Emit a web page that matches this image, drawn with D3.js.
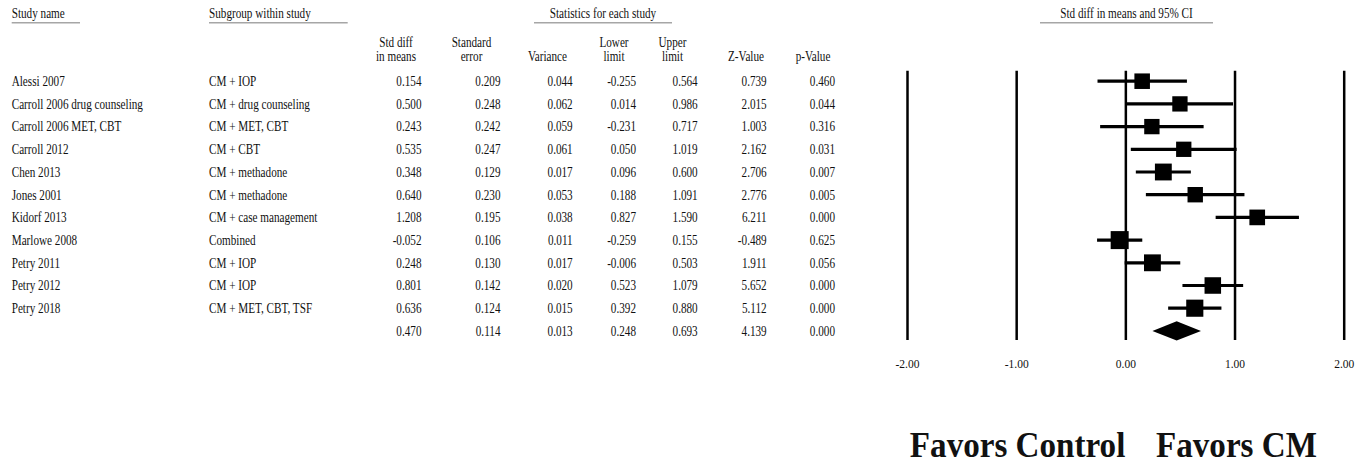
<!DOCTYPE html>
<html>
<head>
<meta charset="utf-8">
<script src="https://cdn.jsdelivr.net/npm/d3@7"></script>
<style>
  html, body { margin: 0; padding: 0; background: #fff; }
  svg { display: block; }
  text { font-family: "Liberation Serif", "Times New Roman", serif; fill: #111; }
</style>
</head>
<body>
<svg id="chart" width="1368" height="464"></svg>
<script>
// Per-study results (standardized difference in means, random-effects meta-analysis)
const studyNames = [
  "Alessi 2007", "Carroll 2006 drug counseling", "Carroll 2006 MET, CBT", "Carroll 2012",
  "Chen 2013", "Jones 2001", "Kidorf 2013", "Marlowe 2008", "Petry 2011", "Petry 2012", "Petry 2018"
];
const subgroups = [
  "CM + IOP", "CM + drug counseling", "CM + MET, CBT", "CM + CBT",
  "CM + methadone", "CM + methadone", "CM + case management", "Combined",
  "CM + IOP", "CM + IOP", "CM + MET, CBT, TSF"
];
const stdDiff   = [0.154, 0.500, 0.243, 0.535, 0.348, 0.640, 1.208, -0.052, 0.248, 0.801, 0.636];
const stdErr    = [0.209, 0.248, 0.242, 0.247, 0.129, 0.230, 0.195, 0.106, 0.130, 0.142, 0.124];
const variance  = [0.044, 0.062, 0.059, 0.061, 0.017, 0.053, 0.038, 0.011, 0.017, 0.020, 0.015];
const lowerLim  = [-0.255, 0.014, -0.231, 0.050, 0.096, 0.188, 0.827, -0.259, -0.006, 0.523, 0.392];
const upperLim  = [0.564, 0.986, 0.717, 1.019, 0.600, 1.091, 1.590, 0.155, 0.503, 1.079, 0.880];
const zValue    = [0.739, 2.015, 1.003, 2.162, 2.706, 2.776, 6.211, -0.489, 1.911, 5.652, 5.112];
const pValue    = [0.460, 0.044, 0.316, 0.031, 0.007, 0.005, 0.000, 0.625, 0.056, 0.000, 0.000];

// Pooled estimate
const summaryStats = [0.470, 0.114, 0.013, 0.248, 0.693, 4.139, 0.000];

// Axis of the forest plot
const tickValues = [-2, -1, 0, 1, 2];
const favorsLabels = ["Favors Control", "Favors CM"];

// Table column headers
const statHeaders = [
  ["Std diff", "in means"], ["Standard", "error"], ["", "Variance"], ["Lower", "limit"],
  ["Upper", "limit"], ["", "Z-Value"], ["", "p-Value"]
];

// ---------------------------------------------------------------------------
const svg = d3.select("#chart");
const SX = 0.81;          // glyph width compression used by the table font
const FS = 13.8;          // table font size

function label(g, x, y, str, anchor, size, opts = {}) {
  return g.append("text")
    .attr("transform", `translate(${x},${y}) scale(${opts.sx ?? SX},1)`)
    .attr("text-anchor", anchor)
    .attr("font-size", size)
    .attr("font-weight", opts.weight || "normal")
    .text(str);
}
const fmt = v => v.toFixed(3);

// Row layout
const nRows = studyNames.length + 1;
const rowY = d3.scaleLinear().domain([0, 1]).range([86, 86 + 22.7]);   // text baselines
const rowMid = i => rowY(i) - 4.8;                                        // marker centres

// Column layout (right edges of numeric columns, centres of headers)
const colRight  = [421.5, 500.5, 572.7, 636, 697.7, 766.7, 835];
const colHeadCx = [396, 471.5, 547.5, 614, 672.5, 746, 813];

const table = svg.append("g");

// Top group headings with grey rules
const headings = [
  { text: "Study name", x: 11.7, anchor: "start", rule: [11.7, 80] },
  { text: "Subgroup within study", x: 209, anchor: "start", rule: [209, 347.7] },
  { text: "Statistics for each study", x: 603, anchor: "middle", rule: [534, 672] },
  { text: "Std diff in means and 95% CI", x: 1126.5, anchor: "middle", rule: [1040, 1213] }
];
headings.forEach(h => {
  label(table, h.x, 18.3, h.text, h.anchor, FS);
  table.append("line")
    .attr("x1", h.rule[0]).attr("x2", h.rule[1])
    .attr("y1", 22.8).attr("y2", 22.8)
    .attr("stroke", "#a6a6a6").attr("stroke-width", 1.6);
});

// Column headers
statHeaders.forEach((lines, j) => {
  if (lines[0]) label(table, colHeadCx[j], 46.8, lines[0], "middle", FS);
  label(table, colHeadCx[j], 60.8, lines[1], "middle", FS);
});

// Study rows
studyNames.forEach((name, i) => {
  const y = rowY(i);
  label(table, 11.7, y, name, "start", FS);
  label(table, 209, y, subgroups[i], "start", FS);
  const vals = [stdDiff[i], stdErr[i], variance[i], lowerLim[i], upperLim[i], zValue[i], pValue[i]];
  vals.forEach((v, j) => label(table, colRight[j], y, fmt(v), "end", FS));
});
// Summary row
summaryStats.forEach((v, j) => label(table, colRight[j], rowY(nRows - 1), fmt(v), "end", FS));

// ---------------------------------------------------------------------------
// Forest plot
const x = d3.scaleLinear().domain([-2, 2]).range([907, 1343.7]);
const plotTop = 70.7, plotBottom = 340;

const axis = d3.axisBottom(x)
  .tickValues(tickValues)
  .tickSize(-(plotBottom - plotTop))
  .tickPadding(20)
  .tickFormat(d => d.toFixed(2));

const axisG = svg.append("g")
  .attr("transform", `translate(0,${plotBottom})`)
  .call(axis);
axisG.select(".domain").remove();
axisG.selectAll(".tick line").attr("stroke", "#000").attr("stroke-width", 2.5);
axisG.selectAll(".tick text")
  .attr("font-family", "Liberation Serif, serif")
  .attr("font-size", 11.5)
  .attr("fill", "#111");

// Marker size grows with inverse-variance weight
const weights = variance.map(v => 1 / v);
const size = d3.scaleLinear().domain(d3.extent(weights)).range([15.3, 18]);

const marks = svg.append("g");
studyNames.forEach((_, i) => {
  const cy = rowMid(i);
  marks.append("line")
    .attr("x1", x(lowerLim[i])).attr("x2", x(upperLim[i]))
    .attr("y1", cy).attr("y2", cy)
    .attr("stroke", "#000").attr("stroke-width", 3.2);
  const s = size(weights[i]);
  marks.append("rect")
    .attr("x", x(stdDiff[i]) - s / 2).attr("y", cy - s / 2)
    .attr("width", s).attr("height", s)
    .attr("fill", "#000");
});

// Pooled-effect diamond
const dy = rowMid(nRows - 1);
const halfH = 9.7;
marks.append("path")
  .attr("d", d3.line()([
    [x(summaryStats[3]), dy],
    [x(summaryStats[0]), dy - halfH],
    [x(summaryStats[4]), dy],
    [x(summaryStats[0]), dy + halfH]
  ]) + "Z")
  .attr("fill", "#000");

// Direction labels under the axis
label(svg, x(0), 457.3, favorsLabels[0], "end", 36, { sx: 0.92, weight: "bold" });
label(svg, 1156, 457.3, favorsLabels[1], "start", 36, { sx: 0.92, weight: "bold" });
</script>
</body>
</html>
